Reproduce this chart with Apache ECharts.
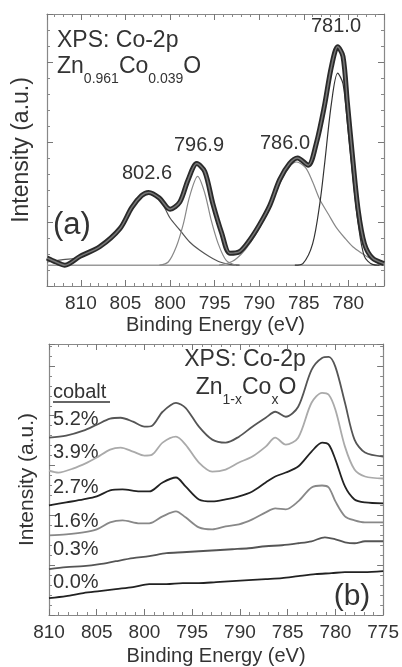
<!DOCTYPE html>
<html>
<head>
<meta charset="utf-8">
<script src="https://cdn.jsdelivr.net/npm/echarts@6/dist/echarts.min.js"></script>
<style>
 html, body { margin: 0; padding: 0; background: #fff; }
 #main { width: 402px; height: 667px; }
</style>
</head>
<body>
<div id="main"></div>
<script>
// (a) Zn0.961Co0.039O Co-2p spectrum, [binding energy (eV), intensity]
var measured = [[813.8,-0.45],[812.8,-0.50],[811.8,-0.54],[810.1,-0.43],[807.9,-0.31],[805.6,-0.08],[804.3,0.18],[803.2,0.33],[802.4,0.37],[801.2,0.30],[800.0,0.16],[798.9,0.25],[798.0,0.52],[797.0,0.73],[796.1,0.63],[795.2,0.23],[794.2,-0.14],[793.3,-0.39],[792.2,-0.37],[791.1,-0.23],[790.0,-0.04],[788.8,0.21],[787.7,0.53],[786.6,0.73],[785.7,0.80],[784.5,0.71],[783.6,0.98],[782.7,1.44],[781.9,1.94],[781.2,2.19],[780.6,2.07],[780.1,1.48],[779.5,0.78],[778.9,0.15],[778.2,-0.27],[777.3,-0.45],[776.0,-0.52]];
var peak8026 = [[813.8,-0.50],[812.0,-0.47],[810.1,-0.44],[807.9,-0.31],[805.6,-0.07],[804.1,0.19],[802.6,0.36],[801.2,0.29],[800.0,0.05],[798.9,-0.10],[797.8,-0.25],[796.7,-0.35],[795.6,-0.43],[794.4,-0.50],[793.3,-0.53],[792.2,-0.54]];
var peak7969 = [[801.2,-0.54],[800.2,-0.50],[799.3,-0.31],[798.5,-0.02],[797.8,0.32],[796.9,0.57],[796.1,0.36],[795.4,0.03],[794.6,-0.27],[793.7,-0.48],[792.6,-0.54]];
var peak7860 = [[794.5,-0.54],[793.0,-0.49],[792.0,-0.40],[791.0,-0.26],[790.0,-0.08],[788.8,0.18],[787.7,0.48],[786.6,0.69],[785.8,0.75],[784.8,0.68],[784.0,0.50],[783.2,0.28],[782.2,0.09],[781.4,-0.06],[780.4,-0.20],[779.5,-0.31],[778.5,-0.39],[777.6,-0.45],[776.0,-0.51]];
var peak7810 = [[786.0,-0.54],[785.1,-0.52],[784.0,-0.27],[783.2,0.23],[782.7,0.69],[781.9,1.48],[781.2,1.86],[780.6,1.73],[780.1,1.23],[779.5,0.57],[778.9,-0.02],[778.2,-0.43],[777.3,-0.53],[776.5,-0.54]];
var background = [[813.8,-0.54],[776.0,-0.54]];
var peakNames = ['802.6', '796.9', '786.0', '781.0'];

// (b) Zn1-xCoxO spectra, offset vertically
var cobaltLabels = ['5.2%', '3.9%', '2.7%', '1.6%', '0.3%', '0.0%'];
var spec52 = [[810,1.78],[808.2,1.80],[806.4,1.85],[805.0,1.91],[803.6,1.97],[802.5,1.98],[801.2,1.94],[800.0,1.89],[799.2,1.90],[798.1,2.04],[796.7,2.13],[795.7,2.08],[794.3,1.89],[792.9,1.76],[791.5,1.73],[790.1,1.79],[788.7,1.89],[787.3,1.98],[786.3,2.04],[785.2,1.99],[783.9,2.09],[782.5,2.46],[781.4,2.58],[780.7,2.59],[780.0,2.49],[779.0,2.13],[778.0,1.76],[776.9,1.63],[775,1.59]];
var spec39 = [[810,1.45],[809,1.43],[807.5,1.47],[806.0,1.53],[805.0,1.58],[803.6,1.66],[802.5,1.68],[801.2,1.64],[800.0,1.60],[799.2,1.61],[798.1,1.73],[796.7,1.79],[795.7,1.71],[794.3,1.53],[792.9,1.44],[791.5,1.46],[790.1,1.53],[788.7,1.59],[787.3,1.69],[786.3,1.78],[785.2,1.71],[783.9,1.78],[782.5,2.13],[781.4,2.23],[780.7,2.21],[780.0,2.06],[779.0,1.69],[778.0,1.46],[776.9,1.39],[775,1.37]];
var spec27 = [[810,1.10],[808.2,1.13],[806.4,1.16],[805.0,1.19],[803.6,1.25],[802.3,1.26],[800.5,1.24],[799.5,1.24],[798.1,1.33],[796.7,1.38],[795.7,1.29],[794.3,1.16],[792.9,1.14],[791.5,1.16],[790.1,1.19],[788.7,1.24],[787.3,1.33],[786.3,1.39],[785.2,1.43],[783.9,1.49],[782.5,1.64],[781.4,1.73],[780.7,1.71],[780.0,1.56],[779.0,1.29],[778.0,1.16],[776.9,1.13],[775,1.12]];
var spec16 = [[810,0.80],[808.2,0.81],[806.4,0.83],[805.0,0.86],[803.6,0.93],[802.3,0.95],[800.5,0.92],[799.5,0.92],[798.1,0.99],[796.7,1.04],[795.7,0.98],[794.3,0.88],[792.9,0.86],[791.5,0.89],[790.1,0.91],[788.7,0.96],[787.3,1.03],[786.3,1.07],[785.2,1.06],[783.9,1.14],[782.5,1.28],[781.4,1.30],[780.7,1.28],[780.0,1.14],[779.0,0.99],[778.0,0.95],[776.9,0.93],[775,0.93]];
var spec03 = [[810,0.46],[808.2,0.48],[806.4,0.49],[804.7,0.51],[803.0,0.54],[801.2,0.57],[799.5,0.59],[797.7,0.62],[796.0,0.63],[794.3,0.64],[792.5,0.65],[790.8,0.66],[789.1,0.67],[787.3,0.69],[785.6,0.70],[783.9,0.72],[782.5,0.74],[781.1,0.78],[780.0,0.76],[779.0,0.73],[778.0,0.72],[776.9,0.74],[775,0.74]];
var spec00 = [[810,0.17],[808.2,0.19],[806.4,0.22],[804.7,0.24],[803.0,0.26],[801.2,0.28],[799.5,0.31],[797.7,0.31],[796.0,0.32],[794.3,0.32],[792.5,0.33],[790.8,0.34],[789.1,0.35],[787.3,0.36],[785.6,0.37],[783.9,0.39],[782.1,0.41],[780.4,0.42],[779.0,0.43],[777.0,0.43],[775,0.44]];
var spectra = [spec52, spec39, spec27, spec16, spec03, spec00];
var specColors = ['#555', '#aaa', '#222', '#888', '#555', '#222'];

var FONT = '"Liberation Sans", Arial, sans-serif';
var INK = '#333';

var myChart = echarts.init(document.getElementById('main'));

function line(data, gi, color, width, z, smooth) {
 return {
  type: 'line', xAxisIndex: gi * 2, yAxisIndex: gi * 2,
  data: data, showSymbol: false, smooth: smooth == null ? 0.3 : smooth,
  lineStyle: { color: color, width: width }, z: z, silent: true
 };
}

function xAxes(gi, min, max, splitNumber, interval, nameGap) {
 var base = {
  type: 'value', gridIndex: gi, min: min, max: max, inverse: true,
  splitNumber: splitNumber, interval: interval,
  axisLine: { onZero: false, lineStyle: { color: '#888', width: 1.2 } },
  axisTick: { inside: true, length: 6, lineStyle: { color: '#777' } },
  minorTick: { show: true, splitNumber: 5, length: 3, lineStyle: { color: '#888' } },
  splitLine: { show: false }
 };
 var bottom = Object.assign({}, base, {
  position: 'bottom',
  axisLabel: { fontSize: 19, color: INK, fontFamily: FONT, margin: 8,
   formatter: function (v) { return v % 5 === 0 ? String(v) : ''; } },
  name: 'Binding Energy (eV)', nameLocation: 'middle', nameGap: nameGap,
  nameTextStyle: { fontSize: 20, color: INK, fontFamily: FONT }
 });
 var top = Object.assign({}, base, { position: 'top', axisLabel: { show: false } });
 return [bottom, top];
}

function yAxes(gi, min, max, opts, nameGap, nameSize) {
 var base = Object.assign({
  type: 'value', gridIndex: gi, min: min, max: max,
  axisLine: { show: true, onZero: false, lineStyle: { color: '#888', width: 1.2 } },
  axisTick: { show: true, inside: true, length: 6, lineStyle: { color: '#777' } },
  minorTick: { show: true, splitNumber: 5, length: 3, lineStyle: { color: '#888' } },
  axisLabel: { show: false },
  splitLine: { show: false }
 }, opts);
 var left = Object.assign({}, base, {
  position: 'left', name: 'Intensity (a.u.)', nameLocation: 'middle', nameGap: nameGap,
  nameTextStyle: { fontSize: nameSize, color: INK, fontFamily: FONT }
 });
 var right = Object.assign({}, base, { position: 'right' });
 return [left, right];
}

var series = [
 line(background, 0, '#999', 1.5, 2, false),
 line(peak8026, 0, '#555', 1.2, 3),
 line(peak7969, 0, '#888', 1.2, 3),
 line(peak7860, 0, '#888', 1.2, 3),
 line(peak7810, 0, '#333', 1.2, 3),
 line(measured, 0, '#2a2a2a', 5, 4),
 line(measured, 0, '#777', 1.5, 5)
];
spectra.forEach(function (s, i) {
 series.push(line(s, 1, specColors[i], 1.8, 3));
});

function txt(x, y, text, size, align, extra) {
 return {
  type: 'text', x: x, y: y, silent: true,
  style: Object.assign({
   text: text, fontSize: size, fontFamily: FONT, fill: INK,
   align: align || 'left', verticalAlign: 'middle'
  }, extra || {})
 };
}

var subRich = {
 m: { fontSize: 23, fontFamily: FONT, color: INK, lineHeight: 38 },
 s: { fontSize: 14, fontFamily: FONT, color: INK, verticalAlign: 'bottom' }
};

var peakPos = [[147, 173], [199, 145], [285, 143], [336, 26]];
var labelY = [419, 452, 487, 521, 549, 582];

var graphics = [
 txt(57, 41, 'XPS: Co-2p', 23),
 txt(57, 67, '{m|Zn}{s|0.961}{m|Co}{s|0.039}{m|O}', 23, 'left', { rich: subRich }),
 txt(53, 225, '(a)', 31),
 txt(245, 360, 'XPS: Co-2p', 23, 'center'),
 txt(246, 388, '{m|Zn}{s|1-x}{m|Co}{s|x}{m|O}', 23, 'center', { rich: subRich }),
 txt(352, 597, '(b)', 30, 'center'),
 txt(53, 392, 'cobalt', 20),
 { type: 'line', silent: true, shape: { x1: 53, y1: 402, x2: 110, y2: 402 },
   style: { stroke: INK, lineWidth: 1.5 } }
];
peakNames.forEach(function (n, i) {
 graphics.push(txt(peakPos[i][0], peakPos[i][1], n, 20, 'center'));
});
cobaltLabels.forEach(function (n, i) {
 graphics.push(txt(53, labelY[i], n, 20));
});

var option = {
 animation: false,
 backgroundColor: '#fff',
 grid: [
  { left: 47, top: 14, width: 337, height: 272 },
  { left: 49, top: 344, width: 336, height: 272 }
 ],
 xAxis: xAxes(0, 776, 813.8, 8, null, 29).concat(xAxes(1, 775, 810, null, 5, 31)),
 yAxis: yAxes(0, -0.8, 2.6, { splitNumber: 3 }, 14, 23)
  .concat(yAxes(1, 0, 2.72, { interval: 0.5 }, 11, 21)),
 series: series,
 graphic: graphics
};

myChart.setOption(option);
</script>
</body>
</html>
